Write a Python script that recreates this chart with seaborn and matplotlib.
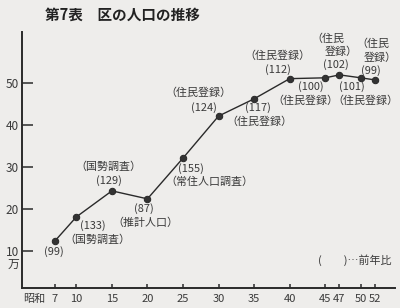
import numpy as np
import pandas as pd
import matplotlib
matplotlib.use("Agg")
import matplotlib.pyplot as plt
import seaborn as sns

# ---- data ----
years = [7, 10, 15, 20, 25, 30, 35, 40, 45, 47, 50, 52]
x_tick_labels = ["7", "10", "15", "20", "25", "30", "35", "40", "45", "47", "50", "52"]
population = [12.4, 18.1, 24.3, 22.4, 32.1, 42.1, 46.2, 51.0, 51.2, 51.9, 51.2, 50.7]  # 万人
ratio_labels = ["(99)", "(133)", "(129)", "(87)", "(155)", "(124)", "(117)", "(112)",
                "(100)", "(102)", "(101)", "(99)"]
sources = ["", "（国勢調査）", "（国勢調査）", "（推計人口）", "（常住人口調査）", "（住民登録）",
           "（住民登録）", "（住民登録）", "（住民登録）", "（住民\n登録）", "（住民登録）", "（住民\n登録）"]
y_ticks = [10, 20, 30, 40, 50]
y_tick_labels = ["10", "20", "30", "40", "50"]
title = "第7表　区の人口の推移"
unit = "万"
era = "昭和"
legend_note = "(　　)…前年比"

# ---- layout (label offsets in pixels, dx, dy up) ----
ratio_off = [(-1, -11), (16, -9), (-3, 10), (-4, -10), (8, -10), (-15, 9), (4, -9),
             (-12, 9), (-14, -9), (-4, 10), (-9, -9), (-4, 9)]
src_off = [None, [(21, -23)], [(-4, 24)], [(-2, -24)], [(26, -24)], [(-20, 23)], [(5, -23)],
           [(-12, 23)], [(-20, -23)], [(-12, 36), (2, 23)], [(5, -23)], [(-2, 36), (5, 22)]]

bg = "#eeedeb"
ink = "#2a2a2a"
txt = "#3a3a3a"

sns.set_theme(style="ticks")
plt.rcParams["font.family"] = ["Noto Sans CJK JP", "DejaVu Sans"]

fig = plt.figure(figsize=(4.0, 3.08), dpi=100, facecolor=bg)
ax = fig.add_axes([22 / 400, 20 / 308, 373 / 400, 256 / 308])
ax.set_facecolor(bg)

df = pd.DataFrame({"year": years, "pop": population})
sns.lineplot(data=df, x="year", y="pop", ax=ax, color=ink, linewidth=1.0,
             marker="o", markersize=4.6, markeredgecolor=ink, markerfacecolor="#333333")

ax.set_xlim(2.36, 54.81)
ax.set_ylim(1.19, 62.1)
ax.set_xlabel("")
ax.set_ylabel("")

for s in ["top", "right"]:
    ax.spines[s].set_visible(False)
for s in ["left", "bottom"]:
    ax.spines[s].set_linewidth(1.4)
    ax.spines[s].set_color(ink)

ax.set_xticks(years)
ax.set_xticklabels(x_tick_labels)
ax.set_yticks(y_ticks)
ax.set_yticklabels(y_tick_labels)
ax.tick_params(axis="x", direction="in", length=3, width=1.1, color=ink, pad=4,
               labelsize=8, labelcolor=txt)
ax.tick_params(axis="y", direction="in", length=8, width=1.1, color=ink, pad=2,
               labelsize=8.5, labelcolor=txt)

fs = 7.9
for i, (yr, p) in enumerate(zip(years, population)):
    ax.annotate(ratio_labels[i], xy=(yr, p), xytext=ratio_off[i], textcoords="offset pixels",
                ha="center", va="center", fontsize=fs, color=txt)
    if sources[i]:
        lines = sources[i].split("\n")
        for line, off in zip(lines, src_off[i]):
            ax.annotate(line, xy=(yr, p), xytext=off, textcoords="offset pixels",
                        ha="center", va="center", fontsize=fs, color=txt)

ax.annotate(unit, xy=(0, 10), xycoords=("axes fraction", "data"), xytext=(-9, -13),
            textcoords="offset pixels", ha="center", va="center", fontsize=8.5, color=txt)
ax.annotate(era, xy=(years[0], 0), xycoords=("data", "axes fraction"), xytext=(-21, -11),
            textcoords="offset pixels", ha="center", va="center", fontsize=8, color=txt)
ax.text(0.893, 0.109, legend_note, transform=ax.transAxes, ha="center", va="center",
        fontsize=fs, color=txt)

fig.text(45 / 400, 1 - 15 / 308, title, ha="left", va="center", fontsize=10.5,
         fontweight="bold", color="#222222")

fig.savefig("out.png", dpi=100, facecolor=bg)
